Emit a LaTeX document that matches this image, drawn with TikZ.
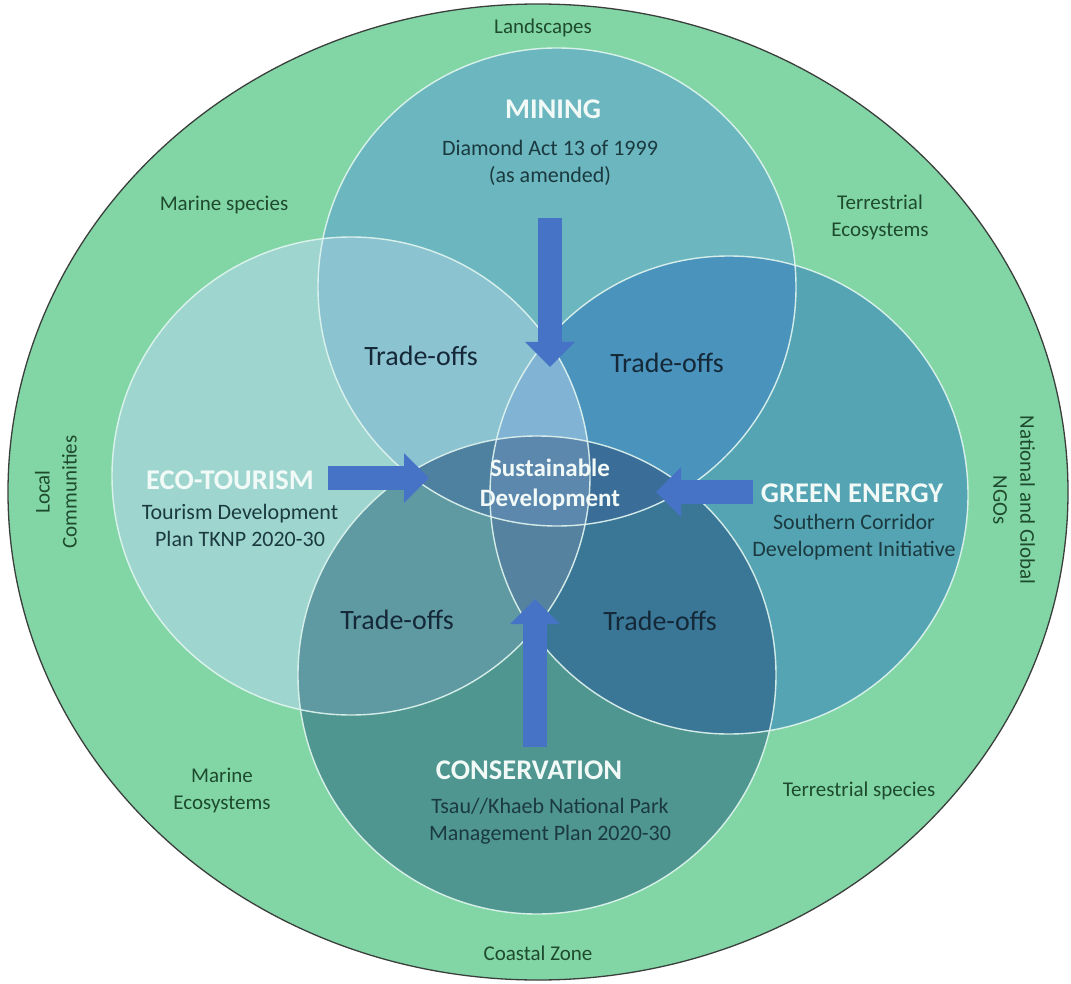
\documentclass[tikz,border=0pt]{standalone}
\usepackage{fontspec}
\setmainfont{Carlito}
\usetikzlibrary{arrows.meta}

% palette
\definecolor{colOuter}{HTML}{82D6A6}
\definecolor{colOuterEdge}{HTML}{3A3F3C}
\definecolor{colE}{HTML}{9ED6CF}
\definecolor{colM}{HTML}{6BB6BF}
\definecolor{colG}{HTML}{55A4B4}
\definecolor{colC}{HTML}{4F9590}
\definecolor{colME}{HTML}{8CC3D1}
\definecolor{colMG}{HTML}{4A93BC}
\definecolor{colEC}{HTML}{5F9AA3}
\definecolor{colGC}{HTML}{3A7797}
\definecolor{colMC}{HTML}{4A7FA5}
\definecolor{colEG}{HTML}{7FB0CF}
\definecolor{colMEG}{HTML}{80B3D4}
\definecolor{colEGC}{HTML}{55829F}
\definecolor{colMCE}{HTML}{4E80A0}
\definecolor{colMCG}{HTML}{3A6E99}
\definecolor{colAll}{HTML}{5C88AE}
\definecolor{colRim}{RGB}{226,246,240}
\definecolor{colArrow}{HTML}{4673C6}
\definecolor{colTitle}{HTML}{F2FAF8}
\definecolor{colSub}{HTML}{1B3A40}
\definecolor{colTrade}{HTML}{142838}
\definecolor{colOuterText}{HTML}{1E4A2E}

% the four policy circles
\def\circM{(557,287) circle [radius=239]}
\def\circE{(351,476) circle [radius=239]}
\def\circG{(729,495) circle [radius=239]}
\def\circC{(537,675) circle [radius=239]}

\begin{document}
\begin{tikzpicture}[x=1pt,y=-1pt,
  outerlabel/.style={text=colOuterText, font=\fontsize{21}{27}\selectfont, align=center, inner sep=0pt},
  titlelabel/.style={text=colTitle, font=\fontsize{28.5}{32}\selectfont\bfseries, inner sep=0pt},
  sublabel/.style={text=colSub, font=\fontsize{22}{27}\selectfont, align=center, inner sep=0pt},
  tradelabel/.style={text=colTrade, font=\fontsize{28}{32}\selectfont, inner sep=0pt},
  centrelabel/.style={text=colTitle, font=\fontsize{25}{30}\selectfont\bfseries, align=center, inner sep=0pt},
  blockarrow/.style={draw=colArrow, line width=24pt, -{Triangle[length=25pt, width=48pt]}},
  rim/.style={draw=colRim, line width=1.4pt, opacity=0.9},
]
% canvas
\fill[white] (0,0) rectangle (1071,984);
\useasboundingbox (0,0) rectangle (1071,984);

% outer context ring
\fill[colOuter] (538,492) ellipse [x radius=530, y radius=488];

% single circles
\fill[colE] \circE;
\fill[colM] \circM;
\fill[colG] \circG;
\fill[colC] \circC;

% pairwise overlaps
\begin{scope}\clip \circM; \fill[colME] \circE; \end{scope}
\begin{scope}\clip \circM; \fill[colMG] \circG; \end{scope}
\begin{scope}\clip \circE; \fill[colEC] \circC; \end{scope}
\begin{scope}\clip \circG; \fill[colGC] \circC; \end{scope}
\begin{scope}\clip \circM; \fill[colMC] \circC; \end{scope}
\begin{scope}\clip \circE; \fill[colEG] \circG; \end{scope}

% triple overlaps
\begin{scope}\clip \circM; \clip \circE; \fill[colMEG] \circG; \end{scope}
\begin{scope}\clip \circE; \clip \circG; \fill[colEGC] \circC; \end{scope}
\begin{scope}\clip \circM; \clip \circC; \fill[colMCE] \circE; \end{scope}
\begin{scope}\clip \circM; \clip \circC; \fill[colMCG] \circG; \end{scope}

% centre, all four
\begin{scope}\clip \circM; \clip \circE; \clip \circG; \fill[colAll] \circC; \end{scope}

% circle rims
\draw[rim] \circE;
\draw[rim] \circM;
\draw[rim] \circG;
\draw[rim] \circC;
\draw[colOuterEdge, line width=1.3pt] (538,492) ellipse [x radius=530, y radius=488];

% centre label
\node[centrelabel] (sd) at (550,485) {Sustainable\\Development};

% block arrows towards the centre
\coordinate (mStart) at (550,218);
\coordinate (mTip)   at (550,367);
\coordinate (eStart) at (328,478);
\coordinate (eTip)   at (429,478);
\coordinate (gStart) at (753,492);
\coordinate (gTip)   at (656,492);
\coordinate (cStart) at (535,747);
\coordinate (cTip)   at (535,599);
\draw[blockarrow] (mStart) -- (mTip);
\draw[blockarrow] (eStart) -- (eTip);
\draw[blockarrow] (gStart) -- (gTip);
\draw[blockarrow] (cStart) -- (cTip);

% policy titles and instruments
\node[titlelabel] (mining) at (553,109) {MINING};
\node[sublabel] (miningAct) at (550,163) {Diamond Act 13 of 1999\\(as amended)};

\node[titlelabel] (eco) at (230,480) {ECO-TOURISM};
\node[sublabel] (ecoPlan) at (240,525) {Tourism Development\\Plan TKNP 2020-30};

\node[titlelabel] (green) at (852,493) {GREEN ENERGY};
\node[sublabel] (greenPlan) at (854,537) {Southern Corridor\\Development Initiative};

\node[titlelabel] (cons) at (529,770) {CONSERVATION};
\node[sublabel] (consPlan) at (550,821) {Tsau//Khaeb National Park\\Management Plan 2020-30};

% trade-off zones
\node[tradelabel] (tUL) at (421,356) {Trade-offs};
\node[tradelabel] (tUR) at (667,363) {Trade-offs};
\node[tradelabel] (tLL) at (397,620) {Trade-offs};
\node[tradelabel] (tLR) at (660,621) {Trade-offs};

% context labels in the outer ring
\node[outerlabel] (landscapes) at (543,28) {Landscapes};
\node[outerlabel] (marineSp) at (224,205) {Marine species};
\node[outerlabel] (terrEco) at (880,217) {Terrestrial\\Ecosystems};
\node[outerlabel] (marineEco) at (222,790) {Marine\\Ecosystems};
\node[outerlabel] (terrSp) at (859,791) {Terrestrial species};
\node[outerlabel] (coastal) at (538,953) {Coastal Zone};
\node[outerlabel, rotate=90] (local) at (56,492) {Local\\Communities};
\node[outerlabel, rotate=-90] (ngos) at (1014,500) {National and Global\\NGOs};
\end{tikzpicture}
\end{document}
